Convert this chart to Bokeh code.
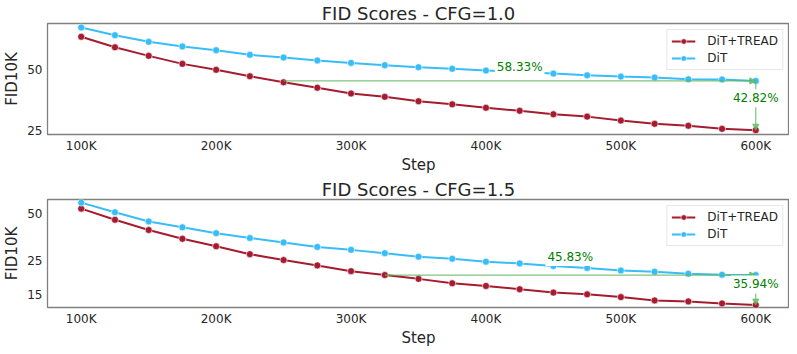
import numpy as np
from bokeh.plotting import figure
from bokeh.layouts import column
from bokeh.models import Range1d, FixedTicker, PrintfTickFormatter, Label, Arrow, NormalHead
from bokeh.embed import file_html
from bokeh.resources import INLINE

# ---------------- data ----------------
steps = [100, 125, 150, 175, 200, 225, 250, 275, 300, 325, 350,
         375, 400, 425, 450, 475, 500, 525, 550, 575, 600]
x_ticks = [100, 200, 300, 400, 500, 600]
x_tick_labels = ["100K", "200K", "300K", "400K", "500K", "600K"]

dit_cfg10 = [80.9, 74.1, 68.7, 65.2, 62.5, 59.3, 57.5, 55.6, 54.1, 52.7, 51.5,
             50.6, 49.6, 48.8, 47.9, 47.0, 46.3, 45.8, 44.9, 44.8, 44.1]
tread_cfg10 = [72.8, 64.6, 58.6, 53.5, 50.0, 46.5, 43.4, 40.8, 38.2, 36.8, 35.0,
               33.8, 32.5, 31.4, 30.2, 29.4, 28.1, 27.1, 26.5, 25.6, 25.2]
dit_cfg15 = [58.8, 51.0, 44.5, 40.8, 37.4, 34.8, 32.6, 30.5, 29.2, 27.8, 26.4,
             25.6, 24.5, 23.9, 23.0, 22.3, 21.5, 21.1, 20.5, 20.2, 20.1]
tread_cfg15 = [53.8, 45.6, 39.2, 34.4, 30.8, 27.4, 25.1, 23.2, 21.3, 20.1, 19.0,
               17.8, 17.1, 16.3, 15.5, 15.1, 14.5, 13.8, 13.6, 13.2, 12.88]

y_ticks_cfg10 = [25, 50]
y_ticks_cfg15 = [15, 25, 50]
titles = ["FID Scores - CFG=1.0", "FID Scores - CFG=1.5"]
speedup_labels = ["58.33%", "45.83%"]
gain_labels = ["42.82%", "35.94%"]
series_names = ["DiT+TREAD", "DiT"]

# ---------------- style ----------------
RED = "#A51C30"
BLUE = "#38BDF8"
GREEN_TXT = "#008000"
GREEN_LN = "#5cb85c"
TXT = "#262626"
FONT = "DejaVu Sans"


def make_panel(title, dit, tread, y_ticks, y_lo, y_hi, frame_h, speed_lbl, gain_lbl,
               speed_dy, top_border):
    p = figure(frame_width=742, frame_height=frame_h, x_range=Range1d(75, 625),
               y_range=Range1d(y_lo, y_hi), y_axis_type="log",
               output_backend="svg", toolbar_location=None,
               min_border_left=0, min_border_right=0, min_border_top=top_border,
               min_border_bottom=0)
    p.title.text = title
    p.title.align = "center"
    p.title.text_font = FONT
    p.title.text_font_size = "18px"
    p.title.text_font_style = "normal"
    p.title.text_color = TXT
    p.title.standoff = 0
    p.title.offset = 0

    p.line(steps, tread, color=RED, line_width=2, legend_label=series_names[0])
    p.scatter(steps, tread, size=7, fill_color=RED, line_color="white",
              line_width=0.6, legend_label=series_names[0])
    p.line(steps, dit, color=BLUE, line_width=2, legend_label=series_names[1])
    p.scatter(steps, dit, size=7, fill_color=BLUE, line_color="white",
              line_width=0.6, legend_label=series_names[1])

    # annotations derived from the data
    target = dit[-1]
    i0 = int(np.argmax(np.array(tread) <= target + 1e-9))
    p.add_layout(Arrow(x_start=steps[i0], y_start=target, x_end=steps[-1], y_end=target,
                       line_color=GREEN_LN, line_width=1.2, line_alpha=0.8,
                       end=NormalHead(size=6, fill_color=GREEN_LN, line_color=GREEN_LN,
                                      fill_alpha=0.8, line_alpha=0.8)))
    p.add_layout(Arrow(x_start=steps[-1], y_start=target, x_end=steps[-1], y_end=tread[-1],
                       line_color=GREEN_LN, line_width=1.2, line_alpha=0.8,
                       end=NormalHead(size=6, fill_color=GREEN_LN, line_color=GREEN_LN,
                                      fill_alpha=0.8, line_alpha=0.8)))
    p.add_layout(Label(x=(steps[i0] + steps[-1]) / 2, y=target, y_offset=speed_dy,
                       text=speed_lbl, text_align="center", text_baseline="middle",
                       text_color=GREEN_TXT, text_font=FONT, text_font_size="12px",
                       background_fill_color="white", padding=2))
    p.add_layout(Label(x=steps[-1], y=(target + tread[-1]) / 2, y_offset=4,
                       text=gain_lbl, text_align="center", text_baseline="middle",
                       text_color=GREEN_TXT, text_font=FONT, text_font_size="12px",
                       background_fill_color="white", padding=2))

    p.xgrid.grid_line_color = None
    p.ygrid.grid_line_color = None
    p.outline_line_color = "#808080"
    p.outline_line_width = 1.3

    p.xaxis.ticker = FixedTicker(ticks=x_ticks, minor_ticks=[])
    p.xaxis.major_label_overrides = dict(zip(x_ticks, x_tick_labels))
    p.yaxis.ticker = FixedTicker(ticks=y_ticks, minor_ticks=[])
    p.yaxis.formatter = PrintfTickFormatter(format="%d")
    for ax in (p.xaxis, p.yaxis):
        ax.axis_line_color = None
        ax.major_tick_line_color = None
        ax.minor_tick_line_color = None
        ax.major_label_text_font = FONT
        ax.major_label_text_font_size = "12px"
        ax.major_label_text_color = TXT
        ax.axis_label_text_font = FONT
        ax.axis_label_text_font_size = "15px"
        ax.axis_label_text_font_style = "normal"
        ax.axis_label_text_color = TXT
        ax.major_tick_out = 0
        ax.major_tick_in = 0
    p.xaxis.axis_label = "Step"
    p.yaxis.axis_label = "FID10K"
    p.xaxis.major_label_standoff = 4
    p.xaxis.axis_label_standoff = 0
    p.yaxis.major_label_standoff = 5
    p.yaxis.axis_label_standoff = 3

    lg = p.legend[0]
    lg.location = "top_right"
    lg.margin = 6
    lg.padding = 4
    lg.spacing = 3
    lg.glyph_width = 24
    lg.glyph_height = 14
    lg.label_height = 14
    lg.label_standoff = 12
    lg.label_text_font = FONT
    lg.label_text_font_size = "12px"
    lg.label_text_color = TXT
    lg.border_line_color = "#d0d0d0"
    lg.border_line_width = 1
    lg.background_fill_alpha = 0.85
    return p


p1 = make_panel(titles[0], dit_cfg10, tread_cfg10, y_ticks_cfg10, 24.0, 84.6, 111,
                speedup_labels[0], gain_labels[0], 14, 0)
p2 = make_panel(titles[1], dit_cfg15, tread_cfg15, y_ticks_cfg15, 12.43, 61.6, 108,
                speedup_labels[1], gain_labels[1], 18, 0)

layout = column(p1, p2, spacing=0)
open("out.html", "w").write(file_html(layout, INLINE))
